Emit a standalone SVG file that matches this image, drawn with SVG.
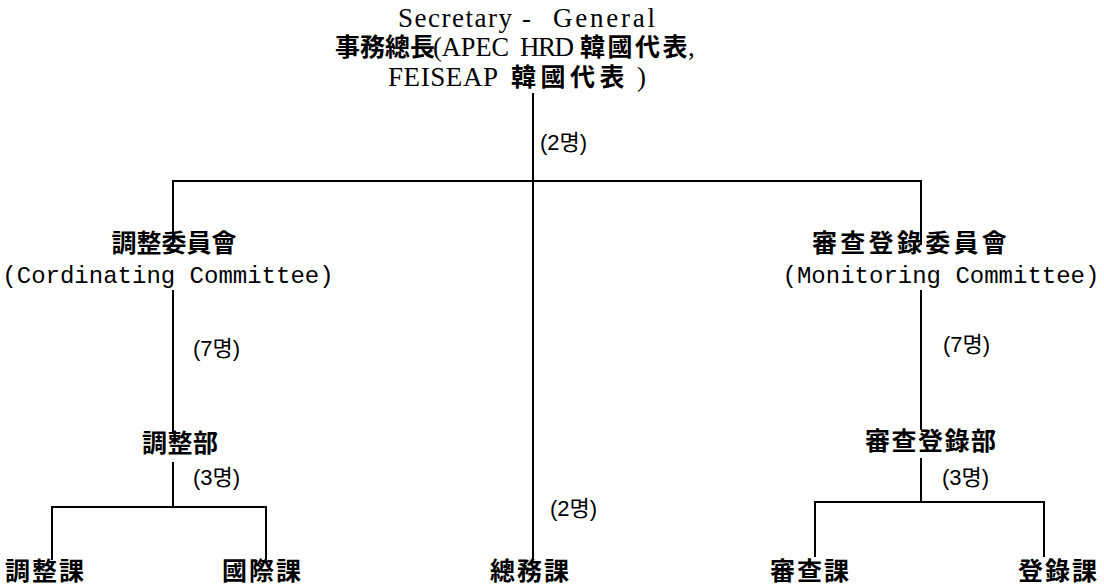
<svg xmlns="http://www.w3.org/2000/svg" width="1104" height="586" viewBox="0 0 1104 586">
<style>
.ln{stroke:#000;stroke-width:2;fill:none}
.cjk{font-family:"Noto Sans CJK KR","Noto Sans CJK TC",sans-serif;font-weight:700;font-size:25px;fill:#000}
.ser{font-family:"Liberation Serif",serif;font-size:27px;fill:#000}
.mono{font-family:"Liberation Mono",monospace;font-size:24px;fill:#000}
.cnt{font-family:"Liberation Sans","Noto Sans CJK KR",sans-serif;font-size:22px;fill:#000}
.bot{letter-spacing:2px}
</style>
<rect width="1104" height="586" fill="#fff"/>
<g id="connectors">
<path class="ln" d="M533 93V560"/>
<path class="ln" d="M173 245V181H921V245"/>
<path class="ln" d="M173 290V432M173 462V507"/>
<path class="ln" d="M52 560V507H266V560"/>
<path class="ln" d="M921 290V430M921 458V502"/>
<path class="ln" d="M815 557V502H1044V557"/>
</g>
<g id="secretary-general">
<text class="ser" x="398" y="27" font-size="28" textLength="114" lengthAdjust="spacing">Secretary</text>
<text class="ser" x="522" y="27" font-size="28">-</text>
<text class="ser" x="553" y="27" font-size="28" textLength="102" lengthAdjust="spacing">General</text>
<text class="cjk" x="335" y="56" font-size="24">事務總長</text>
<text class="ser" x="433" y="56" textLength="76" lengthAdjust="spacingAndGlyphs">(APEC</text>
<text class="ser" x="520" y="56" textLength="54" lengthAdjust="spacing">HRD</text>
<text class="cjk" x="580" y="56" font-size="25" letter-spacing="2.5">韓國代表</text>
<text class="ser" x="688" y="56">,</text>
<text class="ser" x="388" y="86" textLength="110" lengthAdjust="spacing">FEISEAP</text>
<text class="cjk" x="511" y="86" font-size="27" letter-spacing="4.5">韓國代表</text>
<text class="ser" x="637" y="86">)</text>
<text class="cnt" x="540" y="150">(2명)</text>
</g>
<g id="coord-committee">
<text class="cjk" x="174" y="252" text-anchor="middle">調整委員會</text>
<text class="mono" x="168" y="283" text-anchor="middle">(Cordinating Committee)</text>
<text class="cnt" x="193" y="356">(7명)</text>
</g>
<g id="monitor-committee">
<text class="cjk" x="812" y="252" letter-spacing="3.3">審查登錄委員會</text>
<text class="mono" x="941" y="283" text-anchor="middle">(Monitoring Committee)</text>
<text class="cnt" x="943" y="352">(7명)</text>
</g>
<g id="coord-dept">
<text class="cjk" x="142" y="452" letter-spacing="0.5">調整部</text>
<text class="cnt" x="193" y="485">(3명)</text>
</g>
<g id="monitor-dept">
<text class="cjk" x="865" y="450" letter-spacing="1.5">審查登錄部</text>
<text class="cnt" x="942" y="485">(3명)</text>
</g>
<g id="general-affairs">
<text class="cnt" x="550" y="516">(2명)</text>
<text class="cjk bot" x="490" y="580">總務課</text>
</g>
<g id="coord-section"><text class="cjk bot" x="5" y="580">調整課</text></g>
<g id="intl-section"><text class="cjk bot" x="222" y="580">國際課</text></g>
<g id="review-section"><text class="cjk bot" x="770" y="580">審查課</text></g>
<g id="register-section"><text class="cjk bot" x="1018" y="580" letter-spacing="3">登錄課</text></g>
</svg>
